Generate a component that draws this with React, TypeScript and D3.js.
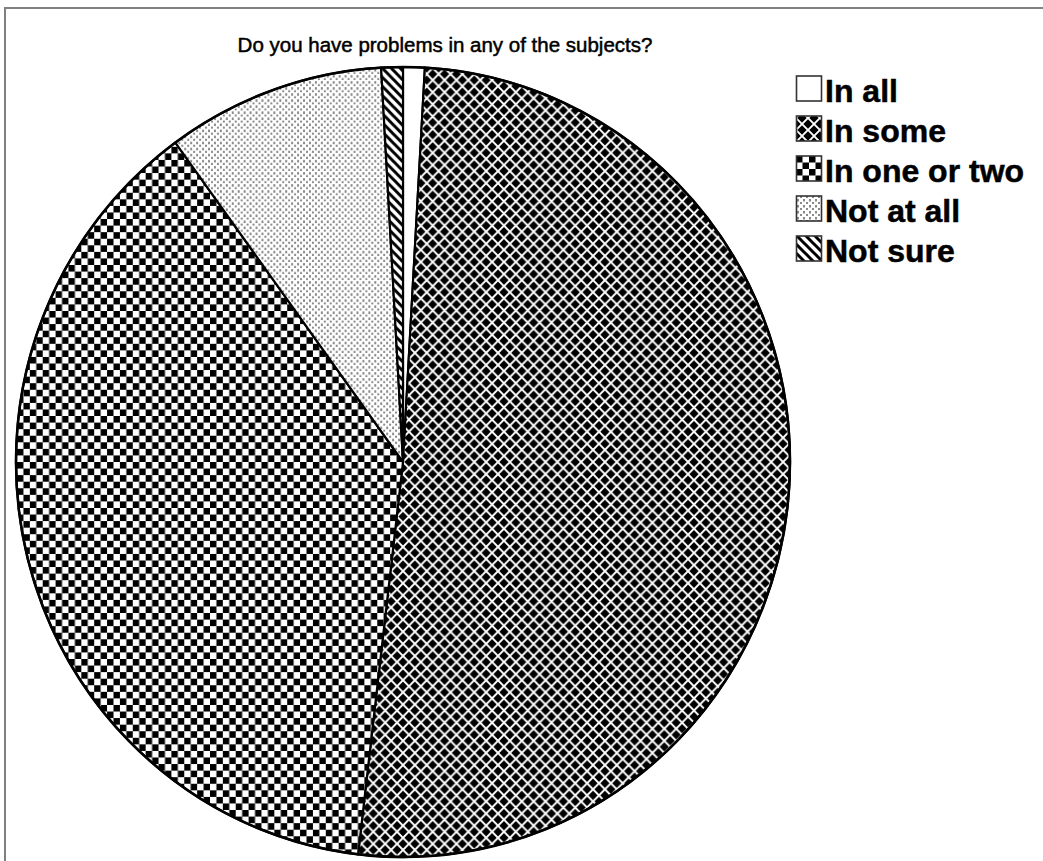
import React from "react";
import * as d3 from "d3";

// Survey answers, share of respondents (%)
const categories = ["In all", "In some", "In one or two", "Not at all", "Not sure"];
const values = [0.9, 50.9, 38.1, 9.1, 0.9];
const fills = ["#ffffff", "url(#crisscross)", "url(#checker)", "url(#dots)", "url(#stripes)"];

const title = "Do you have problems in any of the subjects?";

const W = 1043;
const H = 861;
const cx = 403;
const cy = 462;
const rx = 387;
const ry = 395;
const R = 391;

function Patterns() {
  return (
    <defs>
      <pattern id="crisscross" patternUnits="userSpaceOnUse" width={12} height={12}>
        <rect width={12} height={12} fill="#000" />
        <path d="M0,0L12,12M12,0L0,12" stroke="#fff" strokeWidth={1.9} />
      </pattern>
      <pattern id="checker" patternUnits="userSpaceOnUse" width={13} height={13}>
        <rect width={13} height={13} fill="#fff" />
        <rect x={0} y={0} width={6.5} height={6.5} fill="#000" />
        <rect x={6.5} y={6.5} width={6.5} height={6.5} fill="#000" />
      </pattern>
      <pattern id="dots" patternUnits="userSpaceOnUse" width={6} height={6}>
        <rect width={6} height={6} fill="#fff" />
        <rect x={1} y={1} width={2} height={2.5} fill="#8a8a8a" />
        <rect x={4} y={4} width={2} height={2.5} fill="#8a8a8a" />
      </pattern>
      <pattern id="stripes" patternUnits="userSpaceOnUse" width={9} height={9}>
        <rect width={9} height={9} fill="#fff" />
        <path d="M0,0L9,9M-4.5,4.5L4.5,13.5M4.5,-4.5L13.5,4.5" stroke="#000" strokeWidth={3} />
      </pattern>
    </defs>
  );
}

export default function App() {
  const pie = d3.pie<number>().sort(null).value((d) => d);
  const arcs = pie(values);
  const arc = d3.arc<d3.PieArcDatum<number>>().innerRadius(0).outerRadius(R);

  return (
    <svg
      width={W}
      height={H}
      style={{ position: "absolute", left: 0, top: 0, background: "#fff" }}
      fontFamily="'Liberation Sans', Arial, sans-serif"
    >
      <Patterns />
      <rect x={5} y={8} width={W + 50} height={H + 50} fill="none" stroke="#808080" strokeWidth={2} />

      <text x={445} y={52} textAnchor="middle" fontSize={20.5} fill="#000" stroke="#000" strokeWidth={0.5}>
        {title}
      </text>

      <g transform={`translate(${cx},${cy}) scale(${rx / R},${ry / R})`}>
        {arcs.map((a, i) => (
          <path key={categories[i]} d={arc(a) || ""} fill={fills[i]} stroke="#000" strokeWidth={2.2} strokeLinejoin="round" />
        ))}
        <circle r={R} fill="none" stroke="#000" strokeWidth={2.6} />
      </g>

      <g transform="translate(796,0)">
        {categories.map((c, i) => (
          <g key={c} transform={`translate(0,${102 + 40 * i})`}>
            <rect x={0.5} y={-26} width={25} height={25} fill={fills[i]} stroke="#333" strokeWidth={1.6} />
            <text x={29} y={0} fontSize={32} fontWeight="bold" fill="#000" stroke="#000" strokeWidth={0.5}>
              {c}
            </text>
          </g>
        ))}
      </g>
    </svg>
  );
}
